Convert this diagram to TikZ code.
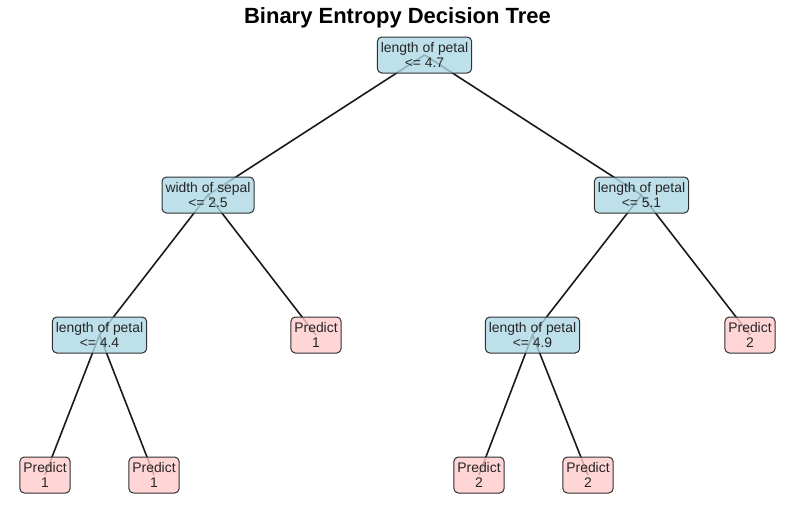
\documentclass[tikz,border=0pt]{standalone}
\usepackage{fontspec}
\setmainfont{Liberation Sans}
\definecolor{dec}{RGB}{173,216,230}
\definecolor{leafc}{RGB}{255,202,202}
\definecolor{edgec}{RGB}{26,26,26}
\definecolor{txt}{RGB}{38,38,38}
\begin{document}
\begin{tikzpicture}[x=1pt,y=-1pt,
  box/.style={draw=edgec!90!white, line width=1pt, rounded corners=4.5pt, minimum height=36pt, inner xsep=3.5pt, inner ysep=2pt, align=center, text=txt, fill opacity=0.8, text opacity=1, font=\fontsize{13.9}{14.5}\selectfont},
  decbox/.style={box, fill=dec},
  leafbox/.style={box, fill=leafc},
  edge/.style={draw=edgec, line width=1.6pt}]
\useasboundingbox (0,0) rectangle (794,506);
\node[font=\bfseries\fontsize{22}{24}\selectfont, text=black] (title) at (397.5,18) {Binary Entropy Decision Tree};
% coordinates of node centres
\coordinate (pr) at (424.5,55);
\coordinate (pa) at (208,195);
\coordinate (pb) at (641.5,195);
\coordinate (paa) at (99.5,335);
\coordinate (pab) at (316,335);
\coordinate (pba) at (532.5,335);
\coordinate (pbb) at (750,335);
\coordinate (paaa) at (45,475);
\coordinate (paab) at (154,475);
\coordinate (pbaa) at (479,475);
\coordinate (pbab) at (588,475);
\draw[edge] (pr) -- (pa);
\draw[edge] (pr) -- (pb);
\draw[edge] (pa) -- (paa);
\draw[edge] (pa) -- (pab);
\draw[edge] (pb) -- (pba);
\draw[edge] (pb) -- (pbb);
\draw[edge] (paa) -- (paaa);
\draw[edge] (paa) -- (paab);
\draw[edge] (pba) -- (pbaa);
\draw[edge] (pba) -- (pbab);
\node[decbox] (r) at (pr) {length of petal\\<= 4.7};
\node[decbox] (a) at (pa) {width of sepal\\<= 2.5};
\node[decbox] (b) at (pb) {length of petal\\<= 5.1};
\node[decbox] (aa) at (paa) {length of petal\\<= 4.4};
\node[leafbox] (ab) at (pab) {Predict\\1};
\node[decbox] (ba) at (pba) {length of petal\\<= 4.9};
\node[leafbox] (bb) at (pbb) {Predict\\2};
\node[leafbox] (aaa) at (paaa) {Predict\\1};
\node[leafbox] (aab) at (paab) {Predict\\1};
\node[leafbox] (baa) at (pbaa) {Predict\\2};
\node[leafbox] (bab) at (pbab) {Predict\\2};
\end{tikzpicture}
\end{document}
